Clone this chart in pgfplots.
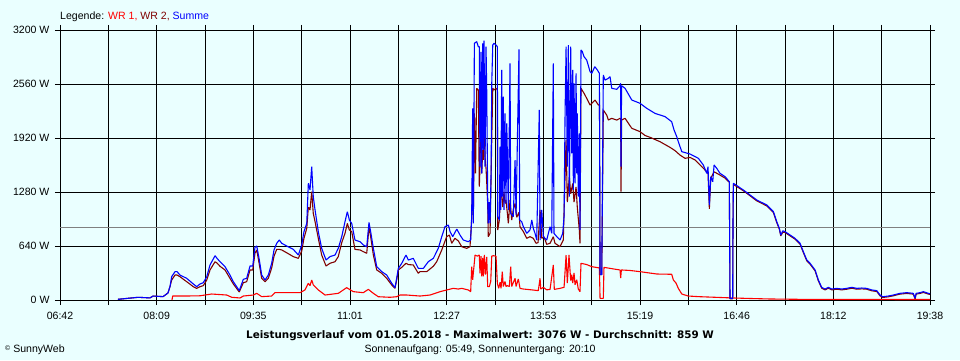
\documentclass[border=0pt]{standalone}
\usepackage{fontspec}
\setmainfont{Liberation Sans}
\newfontfamily\titlefont{DejaVu Sans}
\usepackage{pgfplots}
\pgfplotsset{compat=1.18}
\definecolor{bg}{RGB}{234,255,255}
\definecolor{wrone}{RGB}{255,0,0}
\definecolor{wrtwo}{RGB}{128,0,0}
\definecolor{summe}{RGB}{0,0,255}
\definecolor{avg}{RGB}{128,128,128}
\begin{document}
\begin{tikzpicture}[x=1bp,y=1bp,font=\fontsize{10.6}{12}\selectfont]
\fill[bg] (-60,-60) rectangle (900,300);
\begin{axis}[
  at={(0,0)}, anchor=south west, scale only axis,
  width=870bp, height=270bp,
  xmin=402, xmax=1178, ymin=0, ymax=3200,
  axis line style={black, line width=0.9pt},
  grid=major, major grid style={black, line width=0.9pt},
  xtick={402,445.11,488.22,531.33,574.44,617.56,660.67,703.78,746.89,790,833.11,876.22,919.33,962.44,1005.56,1048.67,1091.78,1134.89,1178},
  xticklabels={06:42,,08:09,,09:35,,11:01,,12:27,,13:53,,15:19,,16:46,,18:12,,19:38},
  ytick={0,640,1280,1920,2560,3200},
  yticklabels={0 W,640 W,1280 W,1920 W,2560 W,3200 W},
  tick align=outside, major tick length=5bp,
  tick style={black, line width=0.9pt},
  tick label style={font=\fontsize{10.6}{12}\selectfont},
  xticklabel style={yshift=-4bp},
  yticklabel style={xshift=-2bp},
  /pgf/number format/assume math mode=true,
  every axis plot/.append style={line join=bevel},
]
\addplot[avg, line width=1pt] coordinates {(402,859) (1178,859)};
% WR 1
\addplot[wrone, line width=1.1pt] coordinates {
(501.9,0) (502.5,47) (513.5,47) (526.9,50) (531.3,59) (537.3,71) (550.7,59) (555.2,32) (562.6,24) (565.5,47) (574.4,59) (577.5,79) (581.9,40) (590.8,47) (593.8,87) (616.1,87) (620.5,119) (623.5,198) (625.0,170) (626.5,237) (627.9,180) (629.5,158) (632.4,119) (638.4,59) (650.2,79) (657.7,146) (663.6,99) (672.5,87) (677.0,126) (681.5,79) (685.9,39) (696.4,32) (702.3,39) (705.3,59) (711.3,59) (723.1,47) (732.0,59) (741.0,99) (746.9,119) (752.8,138) (757.3,130) (760.3,138) (766.2,119) (768.3,99) (769.2,395) (770.1,240) (772.2,533) (774.2,520) (776.0,533) (776.6,316) (777.5,520) (778.2,280) (779.0,500) (779.6,280) (780.5,535) (781.4,300) (782.6,510) (783.5,158) (784.9,158) (786.2,220) (787.1,520) (788.5,525) (790.9,520) (792.1,198) (793.3,138) (794.5,210) (795.4,138) (796.5,336) (797.4,160) (798.9,220) (799.8,160) (801.0,170) (802.8,160) (804.0,395) (804.9,160) (807.9,257) (808.8,160) (810.8,250) (812.3,138) (815.3,130) (822.8,120) (828.6,111) (830.2,257) (830.8,130) (833.1,150) (836.1,120) (839.1,126) (842.0,415) (842.9,126) (848.0,138) (851.6,150) (853.4,533) (854.5,200) (856.0,533) (857.5,230) (858.4,300) (859.3,200) (860.5,320) (861.4,180) (862.9,240) (864.3,130) (865.8,99) (866.7,435) (871.8,420) (876.3,395) (883.1,380) (883.7,20) (886.6,20) (887.2,387) (892.6,375) (897.1,365) (901.5,356) (902.1,260) (902.7,356) (910.4,350) (919.4,336) (934.3,308) (947.6,305) (949.1,237) (951.5,200) (953.5,138) (956.6,71) (962.4,47) (972.9,39) (990.7,30) (1002.3,24) (1017.5,18) (1035.3,12) (1062.1,8) (1178,6)
};
% WR 2
\addplot[wrtwo, line width=1.1pt] coordinates {
(453.7,8) (462.7,20) (471.6,32) (482.3,25) (485.0,47) (493.9,40) (498.3,83) (500.1,158) (501.6,237) (504.6,296) (506.4,296) (509.0,276) (515.0,217) (520.9,158) (523.9,138) (526.9,158) (529.8,170) (532.9,237) (535.8,356) (540.3,454) (542.3,435) (544.7,400) (549.2,356) (553.6,257) (556.6,190) (561.9,95) (565.5,205) (568.5,217) (571.5,356) (573.9,356) (575.9,554) (577.5,593) (579.8,420) (581.9,257) (584.9,217) (587.8,257) (590.8,380) (592.9,520) (595.3,600) (597.6,600) (599.8,593) (604.2,560) (610.1,514) (614.6,494) (617.6,580) (619.6,731) (622.1,850) (623.5,1100) (625.0,1067) (626.5,1284) (627.9,1027) (629.5,928) (632.4,731) (635.4,533) (639.3,403) (642.8,435) (647.3,454) (650.2,514) (653.3,680) (656.2,790) (658.3,908) (660.1,830) (662.2,810) (665.1,600) (669.6,593) (672.5,573) (675.6,554) (677.6,869) (679.1,750) (681.5,533) (684.5,356) (689.0,316) (693.4,257) (697.9,178) (700.8,138) (702.3,237) (703.8,356) (706.8,387) (710.6,435) (712.7,420) (717.1,415) (721.6,316) (723.1,336) (729.1,336) (735.0,400) (738.0,454) (742.5,593) (746.9,751) (749.3,770) (751.4,672) (754.3,731) (757.3,700) (760.3,632) (764.8,612) (767.7,632) (769.2,948) (770.1,1480) (770.7,1010) (771.6,2212) (772.6,1500) (773.7,2509) (775.1,2490) (776.0,1343) (776.6,1580) (777.5,2331) (778.2,1501) (779.0,1778) (779.6,1660) (780.2,2509) (781.1,1700) (782.0,1560) (782.6,1400) (783.5,1126) (784.0,751) (785.6,790) (787.1,1900) (788.0,2509) (789.1,2490) (790.9,2509) (792.1,2490) (792.4,830) (793.9,948) (795.1,1300) (796.0,1225) (796.9,1100) (798.0,1280) (798.9,1145) (799.8,1185) (801.0,1030) (801.9,908) (803.4,1185) (804.9,948) (806.3,1070) (807.9,1145) (809.4,980) (811.4,1040) (812.3,869) (815.3,810) (818.3,731) (821.2,750) (824.2,731) (826.6,672) (828.4,680) (830.2,1067) (831.7,731) (833.7,750) (836.1,660) (839.1,672) (842.0,750) (843.5,672) (848.0,632) (850.9,711) (853.4,1896) (854.5,1160) (856.3,1460) (857.5,1260) (859.3,1380) (860.5,1160) (862.3,1340) (863.4,1100) (865.2,830) (865.8,672) (866.7,2509) (869.4,2450) (871.8,2390) (874.8,2311) (877.7,2350) (879.2,2370) (882.2,2311) (883.2,2311) (883.7,300) (885.2,300) (886.6,2252) (889.7,2190) (891.1,2133) (894.1,2153) (898.6,2133) (901.5,2153) (902.1,2153) (902.4,1284) (902.9,2133) (906.0,2153) (912.0,2035) (919.4,1995) (923.8,1950) (928.3,1928) (937.2,1876) (946.1,1809) (950.6,1770) (955.0,1718) (959.5,1679) (964.0,1690) (968.4,1660) (972.9,1600) (977.3,1541) (980.0,1500) (981.2,1080) (982.4,1440) (985.4,1520) (990.7,1480) (995.2,1445) (999.0,1395) (999.6,15) (1002.0,15) (1002.3,940) (1002.6,1370) (1011.5,1295) (1023.5,1175) (1032.4,1115) (1038.3,1037) (1041.3,918) (1043.6,839) (1044.9,760) (1046.7,805) (1048.7,800) (1053.2,760) (1057.6,721) (1062.1,662) (1065.0,563) (1068.1,464) (1071.0,425) (1075.5,346) (1078.4,227) (1081.4,140) (1084.4,120) (1087.3,140) (1090.4,120) (1094.8,128) (1099.3,120) (1103.7,128) (1108.2,140) (1112.7,128) (1117.1,132) (1121.6,128) (1126.0,109) (1130.5,101) (1133.4,50) (1135.8,30) (1140.8,38) (1145.3,50) (1151.3,70) (1157.3,78) (1163.1,70) (1164.7,12) (1165.6,70) (1169.1,78) (1172.1,90) (1176.5,70) (1178,66)
};
% Summe
\addplot[summe, line width=1.1pt] coordinates {
(453.7,8) (462.7,20) (471.6,32) (482.3,25) (485.0,47) (493.9,40) (498.3,83) (500.1,158) (501.6,276) (504.6,336) (506.4,336) (509.0,296) (515.0,257) (520.9,190) (523.9,158) (526.9,190) (529.8,205) (532.9,276) (535.8,415) (540.3,525) (542.3,490) (544.7,454) (549.2,395) (553.6,296) (556.6,217) (561.9,111) (565.5,245) (568.5,257) (571.5,403) (573.9,403) (575.9,624) (577.5,640) (579.8,474) (581.9,296) (584.9,237) (587.8,296) (590.8,435) (592.9,593) (595.3,672) (597.6,711) (599.8,672) (604.2,640) (610.1,600) (614.6,533) (617.6,652) (619.6,810) (622.1,908) (623.5,1383) (625.0,1304) (626.5,1580) (627.9,1225) (629.5,1067) (632.4,810) (635.4,612) (639.3,474) (642.8,514) (647.3,533) (650.2,612) (653.3,751) (656.2,928) (658.3,1047) (660.1,948) (662.2,908) (665.1,711) (669.6,691) (672.5,652) (675.6,632) (677.6,920) (679.1,810) (681.5,612) (684.5,395) (689.0,336) (693.4,296) (697.9,198) (700.8,146) (702.3,257) (703.8,375) (706.8,435) (710.6,533) (712.7,474) (717.1,494) (721.6,375) (726.1,375) (730.5,454) (735.0,494) (739.4,612) (742.5,751) (745.4,869) (748.4,889) (749.9,810) (752.3,751) (755.9,841) (758.8,770) (761.7,711) (766.2,691) (768.3,711) (769.2,988) (770.1,2272) (770.7,908) (771.6,3042) (773.7,3062) (775.1,3002) (776.0,3002) (776.6,1580) (777.5,2940) (778.2,1501) (779.0,3042) (779.6,1778) (780.2,3073) (781.1,1580) (782.0,3002) (782.6,2489) (783.5,1185) (784.0,908) (784.9,1160) (785.6,908) (786.5,1501) (787.1,2568) (788.0,3022) (789.1,3042) (790.9,3022) (792.1,3002) (792.4,988) (793.9,948) (794.5,1817) (795.1,1067) (796.0,2726) (796.5,1225) (797.4,2410) (798.0,1067) (798.9,2212) (799.8,1145) (800.5,2094) (801.9,1067) (803.4,2805) (804.0,1027) (806.3,988) (807.9,1659) (808.8,1007) (811.4,2971) (812.0,948) (813.8,928) (815.3,869) (818.3,790) (821.2,830) (822.8,948) (824.2,849) (825.7,790) (827.2,711) (829.5,2252) (830.2,711) (831.7,1067) (833.1,751) (836.1,711) (837.6,790) (839.1,869) (840.6,790) (842.0,2805) (842.6,790) (845.1,751) (848.0,711) (850.4,790) (851.6,988) (852.5,2212) (853.4,3002) (854.5,1580) (855.4,3022) (856.3,1225) (857.5,3002) (858.4,1738) (859.3,2726) (859.9,1304) (860.5,2568) (861.4,1382) (862.3,2686) (862.9,1501) (863.4,2212) (864.3,1225) (865.2,1975) (865.8,830) (866.7,2963) (867.9,2944) (869.4,2884) (871.8,2844) (874.8,2706) (876.3,2686) (879.0,2765) (881.3,2726) (883.1,2686) (883.7,300) (885.2,300) (886.6,2667) (888.1,2607) (891.1,2627) (892.6,2647) (894.1,2509) (898.6,2497) (901.5,2540) (902.1,2568) (902.4,1580) (902.9,2540) (906.0,2509) (912.0,2370) (919.4,2331) (925.3,2272) (932.7,2212) (941.7,2173) (947.6,2113) (949.7,2015) (952.1,1936) (953.5,1876) (956.6,1758) (964.0,1730) (971.4,1679) (975.8,1600) (978.9,1501) (980.0,1580) (981.2,1126) (982.4,1462) (984.2,1402) (985.4,1600) (987.8,1560) (990.7,1501) (995.2,1462) (999.0,1402) (999.6,20) (1002.0,20) (1002.3,948) (1002.6,1383) (1011.5,1304) (1023.5,1185) (1032.4,1126) (1038.3,1047) (1041.3,928) (1043.6,849) (1044.9,770) (1046.7,820) (1048.7,810) (1053.2,770) (1057.6,731) (1062.1,672) (1065.0,573) (1068.1,474) (1071.0,435) (1075.5,356) (1078.4,237) (1081.4,150) (1084.4,130) (1087.3,150) (1090.4,130) (1094.8,138) (1099.3,130) (1103.7,138) (1108.2,150) (1112.7,138) (1117.1,142) (1121.6,138) (1126.0,119) (1130.5,111) (1133.4,59) (1135.8,39) (1140.8,47) (1145.3,59) (1151.3,79) (1157.3,87) (1163.1,79) (1164.7,20) (1165.6,79) (1169.1,87) (1172.1,99) (1176.5,79) (1178,75)
};
\end{axis}
\node[anchor=west, inner sep=0pt] at (0,283) {Legende: \textcolor{wrone}{WR 1, }\textcolor{wrtwo}{WR 2, }\textcolor{summe}{Summe}};
\node[inner sep=0pt] at (420,-36) {\titlefont\fontsize{10.4}{12}\selectfont\bfseries Leistungsverlauf vom 01.05.2018 - Maximalwert: 3076 W - Durchschnitt: 859 W};
\node[inner sep=0pt] at (420,-50) {Sonnenaufgang: 05:49, Sonnenuntergang: 20:10};
\node[anchor=west, inner sep=0pt] at (-55,-50) {\raisebox{2pt}{\fontsize{7}{8}\selectfont ©} SunnyWeb};
\end{tikzpicture}
\end{document}
